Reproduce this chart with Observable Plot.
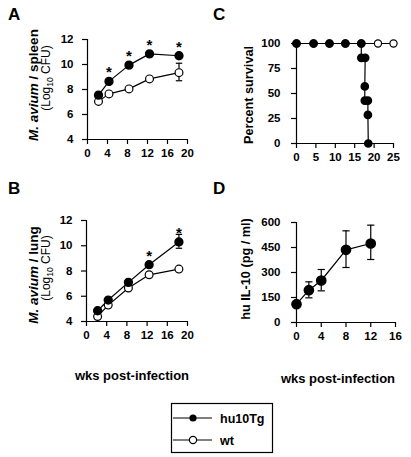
<!DOCTYPE html>
<html><head><meta charset="utf-8">
<script src="https://cdn.jsdelivr.net/npm/d3@7"></script>
<script src="https://cdn.jsdelivr.net/npm/@observablehq/plot@0.6"></script>
<style>
html,body{margin:0;padding:0;background:#fff;}
#wrap{position:relative;width:411px;height:457px;overflow:hidden;background:#fff;font-family:"Liberation Sans",Arial,Helvetica,sans-serif;}
.panel{position:absolute;}
#overlay{position:absolute;left:0;top:0;pointer-events:none;}
</style></head>
<body><div id="wrap"></div>
<script>
// ---- data ----
const weeksAB = [2.2, 4.3, 8.3, 12.4, 18.3];
const spleenHu = [7.55, 8.65, 9.95, 10.85, 10.7];
const spleenWt = [7.05, 7.65, 8.05, 8.85, 9.35];
const spleenSig = [false, true, true, true, true];
const spleenWtErrLo = [null, null, null, null, 8.7];
const spleenWtErrHi = [null, null, null, null, 10.1];
const lungHu = [4.85, 5.7, 7.1, 8.5, 10.3];
const lungWt = [4.4, 5.3, 6.65, 7.7, 8.15];
const lungSig = [false, false, false, true, true];
const lungHuErrLo = [null, null, null, null, 9.8];
const lungHuErrHi = [null, null, null, null, 10.9];
const survHuWeeks = [0, 4.4, 8.5, 12.6, 16.7, 16.7, 17.7, 17.6, 17.6, 18.4, 18.4, 18.5];
const survHuPct = [100, 100, 100, 100, 100, 85.7, 85.7, 57.1, 42.9, 42.9, 28.6, 0];
const survWtWeeks = [0, 4.4, 8.5, 12.6, 16.7, 21, 25];
const survWtPct = [100, 100, 100, 100, 100, 100, 100];
const il10Weeks = [0, 2, 4, 8, 12];
const il10 = [110, 194, 252, 436, 474];
const il10ErrLo = [null, 148, 190, 330, 378];
const il10ErrHi = [null, 244, 318, 550, 584];
const ticksAB_x = [0, 4, 8, 12, 16, 20];
const ticksAB_y = [4, 6, 8, 10, 12];
const ticksC_x = [0, 5, 10, 15, 20, 25];
const ticksC_y = [0, 25, 50, 75, 100];
const ticksD_x = [0, 4, 8, 12, 16];
const ticksD_y = [0, 150, 300, 450, 600];

const FONT = '"Liberation Sans", Arial, Helvetica, sans-serif';
const capSymbol = {draw(ctx, size){ const r = Math.sqrt(size / Math.PI); ctx.moveTo(-r, 0); ctx.lineTo(r, 0); }};

function tbl(xs, ys, extra = {}) {
  return xs.map((x, i) => { const o = {x, y: ys[i]}; for (const k in extra) o[k] = extra[k][i]; return o; });
}

function basePlot(opts) {
  return Plot.plot({
    width: opts.width, height: opts.height,
    marginLeft: opts.ml, marginRight: opts.mr, marginTop: opts.mt, marginBottom: opts.mb,
    x: {domain: opts.xd}, y: {domain: opts.yd},
    style: {fontFamily: FONT, fontSize: "11.5px", fontWeight: "bold", color: "#000", background: "transparent", overflow: "visible"},
    marks: [
      Plot.axisX({ticks: opts.xt, tickSize: 5, tickPadding: 4, label: null, tickFormat: d => String(d), stroke: "#000", strokeWidth: 1.2}),
      Plot.axisY({ticks: opts.yt, tickSize: 5, tickPadding: opts.yp ?? 9, label: null, tickFormat: d => String(d), stroke: "#000", strokeWidth: 1.2}),
      Plot.ruleX([opts.xd[0]], {stroke: "#000", strokeWidth: 1.2}),
      Plot.ruleY([opts.yd[0]], {stroke: "#000", strokeWidth: 1.2}),
      ...opts.marks
    ]
  });
}

function cfuMarks(hu, wt, sig, errSeries, errLo, errHi) {
  const huT = tbl(weeksAB, hu, {sig});
  const wtT = tbl(weeksAB, wt);
  const errT = tbl(weeksAB, errSeries, {lo: errLo, hi: errHi}).filter(d => d.lo != null);
  return [
    Plot.ruleX(errT, {x: "x", y1: "lo", y2: "hi", stroke: "#000", strokeWidth: 1.2}),
    Plot.dot(errT, {x: "x", y: "lo", symbol: capSymbol, r: 3.2, stroke: "#000", strokeWidth: 1.2}),
    Plot.dot(errT, {x: "x", y: "hi", symbol: capSymbol, r: 3.2, stroke: "#000", strokeWidth: 1.2}),
    Plot.line(wtT, {x: "x", y: "y", stroke: "#000", strokeWidth: 1.2}),
    Plot.line(huT, {x: "x", y: "y", stroke: "#000", strokeWidth: 1.2}),
    Plot.dot(wtT, {x: "x", y: "y", r: 3.9, fill: "#fff", stroke: "#000", strokeWidth: 1.2}),
    Plot.dot(huT, {x: "x", y: "y", r: 3.9, fill: "#000", stroke: "#000"}),
    Plot.text(huT.filter(d => d.sig), {x: "x", y: "y", text: () => "*", dy: -9, fontSize: 15, fontWeight: "bold", fill: "#000", lineAnchor: "middle"})
  ];
}

const wrap = document.getElementById("wrap");
function place(svg, left, top) {
  const d = document.createElement("div"); d.className = "panel";
  d.style.left = left + "px"; d.style.top = top + "px";
  d.appendChild(svg); wrap.appendChild(d);
}

// Panel A
place(basePlot({width: 205, height: 165, ml: 87, mr: 18, mt: 39, mb: 26, xd: [0, 20], yd: [4, 12], xt: ticksAB_x, yt: ticksAB_y,
  marks: cfuMarks(spleenHu, spleenWt, spleenSig, spleenWt, spleenWtErrLo, spleenWtErrHi)}), 0, 0);

// Panel B
place(basePlot({width: 205, height: 165, ml: 86, mr: 18, mt: 39, mb: 25, xd: [0, 20], yd: [4, 12], xt: ticksAB_x, yt: ticksAB_y,
  marks: cfuMarks(lungHu, lungWt, lungSig, lungHu, lungHuErrLo, lungHuErrHi)}), 0, 181);

// Panel C
const survHu = tbl(survHuWeeks, survHuPct);
const survWt = tbl(survWtWeeks, survWtPct);
place(basePlot({width: 201, height: 165, ml: 86, mr: 18, mt: 39, mb: 26, xd: [0, 25], yd: [0, 100], xt: ticksC_x, yt: ticksC_y, yp: 11,
  marks: [
    Plot.line(survWt, {x: "x", y: "y", stroke: "#000", strokeWidth: 1.2}),
    Plot.dot(survWt, {x: "x", y: "y", r: 3.6, fill: "#fff", stroke: "#000", strokeWidth: 1.2}),
    Plot.line(survHu, {x: "x", y: "y", stroke: "#000", strokeWidth: 1.2}),
    Plot.dot(survHu, {x: "x", y: "y", r: 3.6, fill: "#000", stroke: "#000"})
  ]}), 210, 4);

// Panel D
const il = tbl(il10Weeks, il10, {lo: il10ErrLo, hi: il10ErrHi});
const ilErr = il.filter(d => d.lo != null);
place(basePlot({width: 201, height: 165, ml: 86, mr: 16, mt: 39, mb: 26, xd: [0, 16], yd: [0, 600], xt: ticksD_x, yt: ticksD_y, yp: 11,
  marks: [
    Plot.ruleX(ilErr, {x: "x", y1: "lo", y2: "hi", stroke: "#000", strokeWidth: 1.2}),
    Plot.dot(ilErr, {x: "x", y: "lo", symbol: capSymbol, r: 3.6, stroke: "#000", strokeWidth: 1.2}),
    Plot.dot(ilErr, {x: "x", y: "hi", symbol: capSymbol, r: 3.6, stroke: "#000", strokeWidth: 1.2}),
    Plot.line(il, {x: "x", y: "y", stroke: "#000", strokeWidth: 1.2}),
    Plot.dot(il, {x: "x", y: "y", r: 4.6, fill: "#000", stroke: "#000"})
  ]}), 210, 183);

// Overlay texts and legend
const NS = "http://www.w3.org/2000/svg";
const ov = document.createElementNS(NS, "svg");
ov.setAttribute("id", "overlay"); ov.setAttribute("width", 411); ov.setAttribute("height", 457);
ov.style.fontFamily = FONT; ov.style.fontWeight = "bold";
ov.innerHTML = `
<text x="8" y="20" font-size="17">A</text>
<text x="213" y="20" font-size="17">C</text>
<text x="8" y="194" font-size="17">B</text>
<text x="213" y="194" font-size="17">D</text>
<text transform="translate(38,85) rotate(-90)" text-anchor="middle" font-size="13.5"><tspan font-style="italic">M. avium</tspan> / spleen</text>
<text transform="translate(50,78) rotate(-90)" text-anchor="middle" font-size="12" font-weight="normal">(Log<tspan font-size="8.5" dy="2.5">10</tspan><tspan dy="-2.5"> CFU)</tspan></text>
<text transform="translate(38,275) rotate(-90)" text-anchor="middle" font-size="13.5"><tspan font-style="italic">M. avium</tspan> / lung</text>
<text transform="translate(50,268) rotate(-90)" text-anchor="middle" font-size="12" font-weight="normal">(Log<tspan font-size="8.5" dy="2.5">10</tspan><tspan dy="-2.5"> CFU)</tspan></text>
<text transform="translate(253,95) rotate(-90)" text-anchor="middle" font-size="12.7">Percent survival</text>
<text transform="translate(250,269) rotate(-90)" text-anchor="middle" font-size="12.7">hu IL-10 (pg / ml)</text>
<text x="132" y="380" text-anchor="middle" font-size="13">wks post-infection</text>
<text x="338" y="383" text-anchor="middle" font-size="13">wks post-infection</text>
<rect x="171.5" y="403.5" width="101" height="49" fill="none" stroke="#000" stroke-width="1.2"/>
<line x1="173" x2="212" y1="418" y2="418" stroke="#000" stroke-width="1.2"/>
<circle cx="193" cy="418" r="3.6" fill="#000"/>
<text x="220" y="422.5" font-size="12.5">hu10Tg</text>
<line x1="173" x2="212" y1="440" y2="440" stroke="#000" stroke-width="1.2"/>
<circle cx="193" cy="440" r="3.6" fill="#fff" stroke="#000" stroke-width="1.2"/>
<text x="220" y="444.5" font-size="12.5">wt</text>
`;
wrap.appendChild(ov);
</script></body></html>
